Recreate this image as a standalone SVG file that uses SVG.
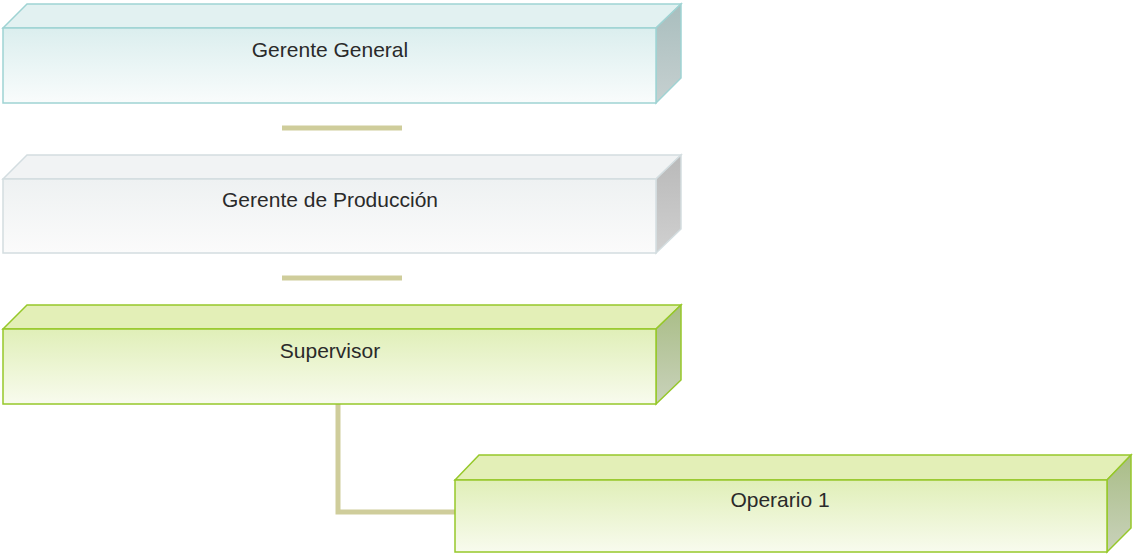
<svg xmlns="http://www.w3.org/2000/svg" width="1133" height="557" viewBox="0 0 1133 557">
<defs>
<linearGradient id="gTeal" x1="0" y1="0" x2="0" y2="1"><stop offset="0" stop-color="#dbeeee"/><stop offset="1" stop-color="#f9fcfc"/></linearGradient>
<linearGradient id="gGray" x1="0" y1="0" x2="0" y2="1"><stop offset="0" stop-color="#eef1f2"/><stop offset="1" stop-color="#fbfbfb"/></linearGradient>
<linearGradient id="gGreen" x1="0" y1="0" x2="0" y2="1"><stop offset="0" stop-color="#e0efb8"/><stop offset="1" stop-color="#f8fbee"/></linearGradient>
<linearGradient id="sTeal" x1="0" y1="0" x2="0" y2="1"><stop offset="0" stop-color="#a9bebe"/><stop offset="1" stop-color="#c6d0d0"/></linearGradient>
<linearGradient id="sGray" x1="0" y1="0" x2="0" y2="1"><stop offset="0" stop-color="#b9b9b9"/><stop offset="1" stop-color="#d0d0d0"/></linearGradient>
<linearGradient id="sGreen" x1="0" y1="0" x2="0" y2="1"><stop offset="0" stop-color="#a9bd86"/><stop offset="1" stop-color="#c9d2bb"/></linearGradient>
</defs>
<style>
.t{font-family:"Liberation Sans",Arial,sans-serif;font-size:21px;fill:#2a2a2a;text-anchor:middle}
.teal{stroke:#9fd3d3;stroke-width:1.5}
.gray{stroke:#d3dde0;stroke-width:1.5}
.green{stroke:#96c82a;stroke-width:1.5}
.conn{fill:none;stroke:#cfcd9b;stroke-width:5}
</style>
<g id="connectors">
<line class="conn" x1="282" y1="128" x2="402" y2="128"/>
<line class="conn" x1="282" y1="278" x2="402" y2="278"/>
<polyline class="conn" points="338,404 338,512 455,512"/>
</g>
<g id="gerente-general">
<polygon class="teal" fill="#e2f1f1" points="3,28 27,4 681,4 656,28"/>
<polygon class="teal" fill="url(#sTeal)" points="656,28 681,4 681,78 656,103"/>
<rect class="teal" fill="url(#gTeal)" x="3" y="28" width="653" height="75"/>
<text class="t" x="330" y="57">Gerente General</text>
</g>
<g id="gerente-produccion">
<polygon class="gray" fill="#f1f3f4" points="3,179 27,155 681,155 656,179"/>
<polygon class="gray" fill="url(#sGray)" points="656,179 681,155 681,229 656,253"/>
<rect class="gray" fill="url(#gGray)" x="3" y="179" width="653" height="74"/>
<text class="t" x="330" y="207">Gerente de Producción</text>
</g>
<g id="supervisor">
<polygon class="green" fill="#e3efb7" points="3,329 27,305 681,305 656,329"/>
<polygon class="green" fill="url(#sGreen)" points="656,329 681,305 681,380 656,404"/>
<rect class="green" fill="url(#gGreen)" x="3" y="329" width="653" height="75"/>
<text class="t" x="330" y="358">Supervisor</text>
</g>
<g id="operario-1">
<polygon class="green" fill="#e3efb7" points="455,480 479,455 1131,455 1107,480"/>
<polygon class="green" fill="url(#sGreen)" points="1107,480 1131,455 1131,528 1107,552"/>
<rect class="green" fill="url(#gGreen)" x="455" y="480" width="652" height="72"/>
<text class="t" x="780" y="507">Operario 1</text>
</g>
</svg>
